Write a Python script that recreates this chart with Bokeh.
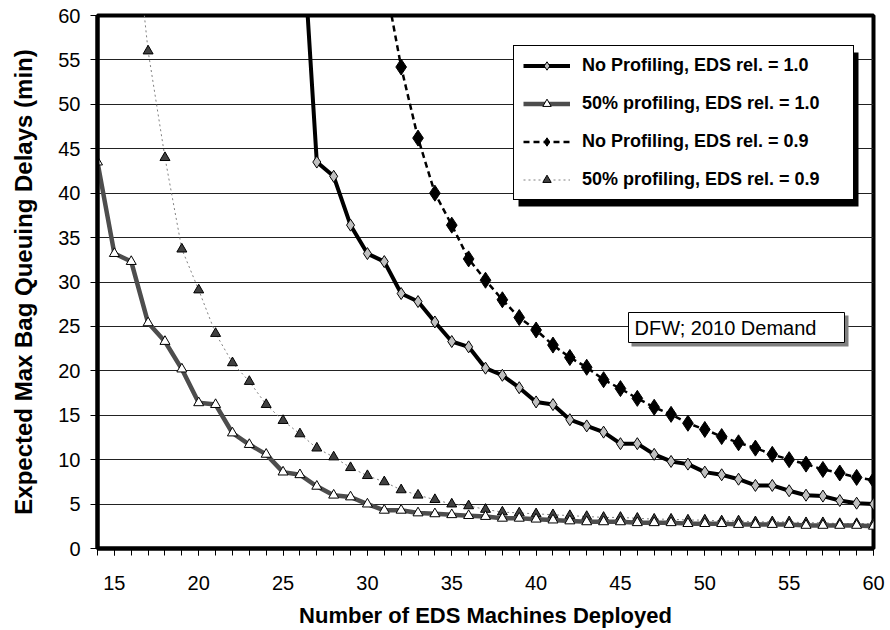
from bokeh.plotting import figure
from bokeh.models import (Range1d, SingleIntervalTicker, Legend, LegendItem,
                          BoxAnnotation, Label)
from bokeh.embed import file_html
from bokeh.resources import INLINE

# ---- data ----
x_np10 = list(range(26, 61))
y_np10 = [74.0, 43.5, 41.9, 36.4, 33.2, 32.3, 28.7, 27.8, 25.5, 23.3, 22.7,
          20.3, 19.5, 18.1, 16.5, 16.2, 14.5, 13.8, 13.1, 11.8, 11.8, 10.6,
          9.8, 9.5, 8.6, 8.3, 7.8, 7.1, 7.1, 6.5, 6.0, 5.9, 5.4, 5.1, 5.0]

x_p10 = list(range(14, 61))
y_p10 = [43.5, 33.2, 32.3, 25.4, 23.3, 20.2, 16.4, 16.2, 13.0, 11.7, 10.6,
         8.6, 8.3, 7.0, 6.0, 5.8, 5.0, 4.3, 4.3, 4.0, 3.9, 3.8, 3.7, 3.6,
         3.4, 3.4, 3.3, 3.2, 3.1, 3.0, 3.0, 3.0, 2.9, 2.9, 2.9, 2.8, 2.8,
         2.8, 2.7, 2.7, 2.7, 2.7, 2.6, 2.6, 2.6, 2.6, 2.5]

x_np09 = list(range(31, 61))
y_np09 = [64.4, 54.2, 46.2, 40.0, 36.4, 32.6, 30.2, 28.0, 26.0, 24.6, 22.9,
          21.5, 20.4, 19.0, 18.0, 16.9, 15.9, 15.1, 14.1, 13.4, 12.6, 11.9,
          11.3, 10.6, 10.0, 9.5, 8.9, 8.5, 8.0, 7.7]

x_p09 = list(range(16, 61))
y_p09 = [74.0, 56.0, 44.0, 33.7, 29.1, 24.2, 20.9, 18.8, 16.2, 14.4, 12.9,
         11.3, 10.3, 9.1, 8.2, 7.5, 6.6, 6.0, 5.5, 5.0, 4.8, 4.4, 4.1, 4.0,
         3.9, 3.8, 3.7, 3.6, 3.5, 3.5, 3.4, 3.3, 3.3, 3.2, 3.2, 3.1, 3.1,
         3.0, 3.0, 3.0, 2.9, 2.9, 2.8, 2.8, 2.8]

labels = ["No Profiling, EDS rel. = 1.0", "50% profiling, EDS rel. = 1.0",
          "No Profiling, EDS rel. = 0.9", "50% profiling, EDS rel. = 0.9"]
x_title = "Number of EDS Machines Deployed"
y_title = "Expected Max Bag Queuing Delays (min)"
note = "DFW; 2010 Demand"

FONT = "Liberation Sans"

p = figure(width=890, height=630, output_backend="svg", toolbar_location=None,
           x_range=Range1d(14, 60), y_range=Range1d(0, 60),
           min_border_left=97, min_border_right=17, min_border_top=15,
           min_border_bottom=79)
p.background_fill_color = "white"
p.border_fill_color = "white"
p.outline_line_color = "black"
p.outline_line_width = 4

# axes
p.xaxis.ticker = SingleIntervalTicker(interval=5, num_minor_ticks=5)
p.yaxis.ticker = SingleIntervalTicker(interval=5, num_minor_ticks=0)
for ax in (p.xaxis, p.yaxis):
    ax.axis_line_color = "black"
    ax.axis_line_width = 4
    ax.major_tick_line_color = "black"
    ax.major_tick_line_width = 1
    ax.major_tick_out = 7
    ax.major_tick_in = 0
    ax.minor_tick_line_color = "black"
    ax.minor_tick_line_width = 1
    ax.minor_tick_out = 7
    ax.minor_tick_in = 0
    ax.major_label_text_font = FONT
    ax.major_label_text_font_size = "20px"
    ax.major_label_text_color = "black"
    ax.axis_label_text_font = FONT
    ax.axis_label_text_font_style = "bold"
    ax.axis_label_text_color = "black"
p.yaxis.minor_tick_line_color = None
p.xaxis.major_label_standoff = 20
p.yaxis.major_label_standoff = 10
p.xaxis.axis_label = x_title
p.yaxis.axis_label = y_title
p.xaxis.axis_label_text_font_size = "22px"
p.yaxis.axis_label_text_font_size = "24px"
p.xaxis.axis_label_standoff = 10
p.yaxis.axis_label_standoff = 18

p.xgrid.grid_line_color = None
p.ygrid.grid_line_color = "#222222"
p.ygrid.grid_line_width = 1

# series
r_p09_l = p.line(x_p09, y_p09, line_color="#808080", line_width=1,
                 line_dash="2 3")
r_p09_m = p.scatter(x_p09, y_p09, marker="triangle", size=10,
                    fill_color="#404040", line_color="black", line_width=1)

r_np09_l = p.line(x_np09, y_np09, line_color="black", line_width=2.5,
                  line_dash="6 4")
r_np09_m = p.scatter(x_np09, y_np09, marker="diamond", size=16,
                     fill_color="black", line_color="black")

r_p10_l = p.line(x_p10, y_p10, line_color="#4D4D4D", line_width=4.5)
r_p10_m = p.scatter(x_p10, y_p10, marker="triangle", size=10,
                    fill_color="white", line_color="black", line_width=1)

r_np10_l = p.line(x_np10, y_np10, line_color="black", line_width=4)
r_np10_m = p.scatter(x_np10, y_np10, marker="diamond", size=12,
                     fill_color="#C0C0C0", line_color="black", line_width=1)

# annotation box with shadow
p.add_layout(BoxAnnotation(left=534, right=751, bottom=202, top=233,
                           left_units="screen", right_units="screen",
                           bottom_units="screen", top_units="screen",
                           fill_color="#808080", fill_alpha=1, line_color=None))
p.add_layout(BoxAnnotation(left=531, right=747, bottom=206, top=236,
                           left_units="screen", right_units="screen",
                           bottom_units="screen", top_units="screen",
                           fill_color="white", fill_alpha=1,
                           line_color="black", line_width=1, line_alpha=1))
p.add_layout(Label(x=537, y=221, x_units="screen", y_units="screen",
                   text=note, text_font=FONT, text_font_size="20px",
                   text_color="black", text_align="left",
                   text_baseline="middle"))

# legend shadow
p.add_layout(BoxAnnotation(left=421, right=761, bottom=342, top=496,
                           left_units="screen", right_units="screen",
                           bottom_units="screen", top_units="screen",
                           fill_color="black", fill_alpha=1, line_color=None))

legend = Legend(items=[
    LegendItem(label=labels[0], renderers=[r_np10_l, r_np10_m]),
    LegendItem(label=labels[1], renderers=[r_p10_l, r_p10_m]),
    LegendItem(label=labels[2], renderers=[r_np09_l, r_np09_m]),
    LegendItem(label=labels[3], renderers=[r_p09_l, r_p09_m]),
], location=(416, 348))
legend.label_text_font = FONT
legend.label_text_font_style = "bold"
legend.label_text_font_size = "18px"
legend.label_text_color = "black"
legend.glyph_width = 47
legend.glyph_height = 21
legend.label_height = 21
legend.label_width = 262
legend.label_standoff = 12
legend.spacing = 17
legend.padding = 9
legend.margin = 0
legend.border_line_color = "black"
legend.border_line_width = 1
legend.border_line_alpha = 1
legend.background_fill_color = "white"
legend.background_fill_alpha = 1
p.add_layout(legend)

open("out.html", "w").write(file_html(p, INLINE))
